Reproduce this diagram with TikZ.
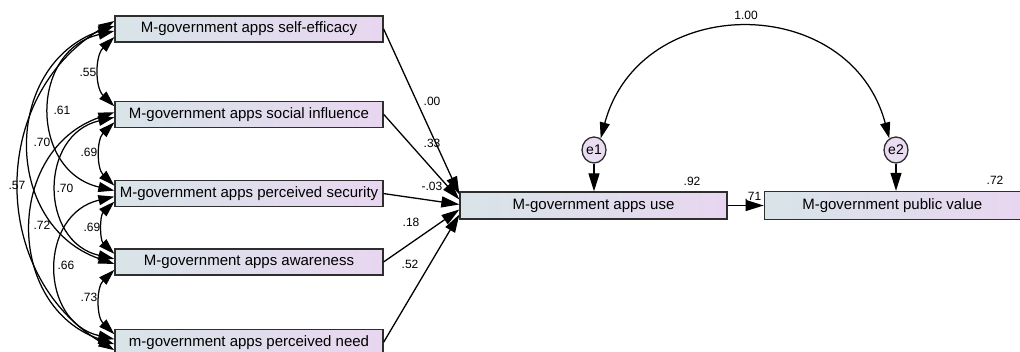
\documentclass[tikz,border=0pt]{standalone}
\usepackage{fontspec}
\setmainfont{Liberation Sans}
\usetikzlibrary{arrows.meta, positioning, shapes.geometric}
\definecolor{boxleft}{HTML}{D8E4E8}
\definecolor{boxright}{HTML}{E8D6F0}
\definecolor{errfill}{HTML}{EADDF2}
\definecolor{framecolor}{HTML}{2E2E2E}

\begin{document}
\begin{tikzpicture}[x=1pt, y=1pt,
    box/.style={draw=framecolor, line width=1.3pt, left color=boxleft,
                right color=boxright, minimum width=268pt, minimum height=26pt,
                inner sep=2pt, font=\fontsize{15}{18}\selectfont},
    err/.style={ellipse, draw=framecolor, line width=1.3pt, fill=errfill,
                minimum width=24pt, minimum height=26pt, inner sep=0pt,
                font=\fontsize{14}{16}\selectfont},
    num/.style={inner sep=0pt, font=\fontsize{12}{14}\selectfont},
    arr/.style={-{Triangle[length=18pt, width=11pt]}, line width=1.3pt},
    darr/.style={{Triangle[length=16pt, width=10pt]}-{Triangle[length=16pt, width=10pt]},
                 line width=1.25pt}
]
    \useasboundingbox (0,0) rectangle (1020,-352);

    % exogenous column
    \node[box] (eff) at (249,-29) {M-government apps self-efficacy};
    \node[box, below=58pt of eff] (soc) {M-government apps social influence};
    \node[box, below=52pt of soc] (sec) {M-government apps perceived security};
    \node[box, below=41pt of sec] (awa) {M-government apps awareness};
    \node[box, below=53pt of awa] (need) {m-government apps perceived need};

    % endogenous part
    \node[box, minimum width=267pt, minimum height=27pt] (use) at (593.5,-205.5)
          {M-government apps use};
    \node[box, minimum width=256pt, minimum height=28pt, right=36pt of use]
          (pv) {M-government public value};
    \node[err] (e1) at (594,-150) {e1};
    \node[err] (e2) at (896,-150) {e2};

    \draw[arr] (e1) -- (use.north -| e1);
    \draw[arr] (e2) -- (pv.north -| e2);
    \draw[arr] (use) -- node[num, above=4pt, pos=0.7] (w6) {.71} (pv);
    \draw[darr] (e1.60) to[bend left=75, looseness=1.35] (e2.120);
    \node[num] (c0) at (746,-15) {1.00};
    \node[num] (r1) at (692,-181) {.92};
    \node[num] (r2) at (995,-180) {.72};

    % regression weights
    \draw[arr] (eff.east) -- ([yshift=11pt]use.west);
    \draw[arr] (soc.east) -- ([yshift=6pt]use.west);
    \draw[arr] (sec.east) -- ([yshift=1pt]use.west);
    \draw[arr] (awa.east) -- ([yshift=-4pt]use.west);
    \draw[arr] (need.east) -- ([yshift=-9pt]use.west);
    \node[num] (w1) at (432,-101) {.00};
    \node[num] (w2) at (432,-143) {.33};
    \node[num] (w3) at (432,-186) {-.03};
    \node[num] (w4) at (411,-222) {.18};
    \node[num] (w5) at (410,-264) {.52};

    % correlations among the exogenous boxes
    \draw[darr] ([yshift=-8pt]eff.west) to[bend right=46, looseness=1.0] ([yshift=8pt]soc.west);
    \draw[darr] ([yshift=-8pt]soc.west) to[bend right=46, looseness=1.0] ([yshift=8pt]sec.west);
    \draw[darr] ([yshift=-8pt]sec.west) to[bend right=46, looseness=1.0] ([yshift=8pt]awa.west);
    \draw[darr] ([yshift=-8pt]awa.west) to[bend right=46, looseness=1.0] ([yshift=8pt]need.west);
    \draw[darr] ([yshift=-2pt]eff.west) to[bend right=77, looseness=1.4] ([yshift=3pt]sec.west);
    \draw[darr] ([yshift=-3pt]soc.west) to[bend right=77, looseness=1.4] ([yshift=3pt]awa.west);
    \draw[darr] ([yshift=-3pt]sec.west) to[bend right=77, looseness=1.4] ([yshift=3pt]need.west);
    \draw[darr] ([yshift=3pt]eff.west) to[bend right=71, looseness=1.28] ([yshift=-2pt]awa.west);
    \draw[darr] ([yshift=2pt]soc.west) to[bend right=71, looseness=1.28] ([yshift=-2pt]need.west);
    \draw[darr] ([yshift=8pt]eff.west) to[bend right=59, looseness=1.14] ([yshift=-8pt]need.west);
    \node[num] (k12) at (88,-72) {.55};
    \node[num] (k13) at (62,-110) {.61};
    \node[num] (k14) at (42,-142) {.70};
    \node[num] (k15) at (17,-185) {.57};
    \node[num] (k23) at (89,-152) {.69};
    \node[num] (k24) at (65,-188) {.70};
    \node[num] (k25) at (42,-225) {.72};
    \node[num] (k34) at (92,-227) {.69};
    \node[num] (k35) at (66,-265) {.66};
    \node[num] (k45) at (89,-297) {.73};
\end{tikzpicture}
\end{document}
